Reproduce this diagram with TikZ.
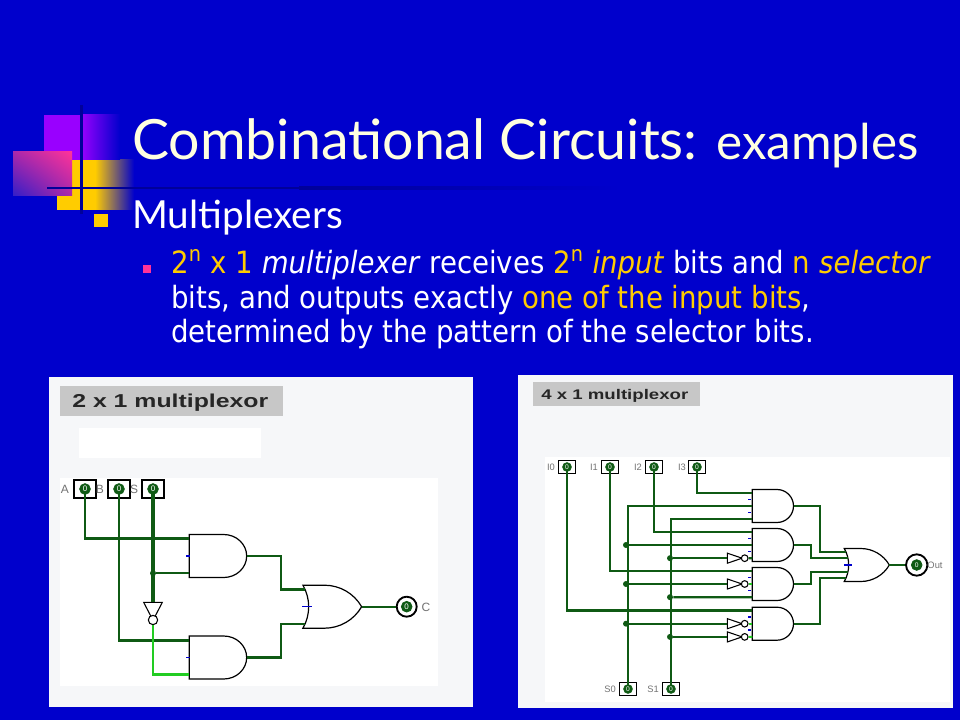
\documentclass[tikz,border=0pt]{standalone}
\usepackage{fontspec}
\setmainfont{DejaVu Sans Condensed}
\newfontfamily\titlefont{Lato}
\newfontfamily\labelfont{Liberation Sans}
\usetikzlibrary{circuits.logic.US,shadings,shapes.geometric}
\definecolor{slidebg}{HTML}{0000CC}
\definecolor{navyline}{HTML}{000099}
\definecolor{creamtxt}{HTML}{FFFFE0}
\definecolor{goldtxt}{HTML}{FFCC00}
\definecolor{pinktxt}{HTML}{FF3399}
\definecolor{purp}{HTML}{9900FF}
\definecolor{midpink}{HTML}{AA28AA}
\definecolor{lowpink}{HTML}{321EC8}
\definecolor{wiregreen}{HTML}{0F5A14}
\definecolor{litgreen}{HTML}{22CC22}
\definecolor{panelgrey}{HTML}{F6F7F9}
\tikzset{
wire/.style={draw=wiregreen,line width=1.6pt},
fatwire/.style={wire,line width=2.6pt},
tick/.style={draw=blue!80!black,line width=0.9pt},
pin/.style={draw,line width=1.4pt,fill=white,minimum width=17pt,minimum height=13.5pt,inner sep=0pt},
smallpin/.style={pin,line width=1.2pt,minimum width=13pt,minimum height=9.5pt},
lamp/.style={circle,draw=wiregreen,fill=wiregreen,line width=0.6pt,minimum size=8pt,inner sep=0pt,
  text=white,font=\labelfont\fontsize{6}{6}\selectfont},
smalllamp/.style={lamp,minimum size=6.5pt,font=\labelfont\fontsize{5}{5}\selectfont},
ring/.style={circle,draw=black,fill=white,line width=1.4pt,minimum size=15pt,inner sep=0pt},
dot/.style={circle,fill=wiregreen,inner sep=0pt,minimum size=4.5pt},
pinlabel/.style={font=\labelfont\fontsize{9}{9}\selectfont,text=black!55,inner sep=0pt},
smalllabel/.style={pinlabel,font=\labelfont\fontsize{7}{7}\selectfont},
heading/.style={text=black!85,inner sep=0pt,anchor=west,xscale=1.33,transform shape},
notbody/.style={isosceles triangle,isosceles triangle stretches,draw=black,fill=white,line width=0.8pt,
  inner sep=0pt,minimum height=11pt,minimum width=7.5pt},
bubble/.style={circle,draw=black,fill=white,line width=0.8pt,inner sep=0pt,minimum size=5pt},
bodyline/.style={anchor=base west,inner sep=0pt,text=white,font=\fontsize{23}{26}\selectfont}
}
\begin{document}
\begin{tikzpicture}[x=0.75pt,y=-0.75pt,circuit logic US,
every circuit symbol/.style={fill=white,draw=black,line width=0.9pt,inner sep=0pt,outer sep=0pt,
  minimum width=0pt,minimum height=0pt,logic gate inverted radius=0.1pt},
nine/.style={logic gate inputs=nnnnnnnnn},
stretched/.style={xscale=1.07,transform shape}]
\useasboundingbox (0,0) rectangle (960,720);
\fill[slidebg] (0,0) rectangle (960,720);
% decoration left of the title
\fill[goldtxt] (57,160) rectangle (96,210);
\shade[left color=goldtxt,right color=slidebg] (95,160) rectangle (134,210);
\fill[purp] (44,115) rectangle (82,160);
\shade[left color=purp,right color=slidebg] (81,115) rectangle (120,160);
\shade[upper right=pinktxt,upper left=midpink,lower left=lowpink,lower right=midpink] (13,152) rectangle (72,196);
\fill[navyline] (80,105) rectangle (82.5,214);
\fill[navyline] (47,187) rectangle (300,189.5);
\shade[left color=navyline,right color=slidebg] (299,187) rectangle (620,189.5);
\fill[goldtxt] (94,214) rectangle (108,227);
\fill[pinktxt] (143,265) rectangle (151,273);
% texts
\node (title) at (132,160) [anchor=base west,inner sep=0pt,text=creamtxt,font=\titlefont\fontsize{41.6}{44}\selectfont] {Combinational Circuits:};
\node (examples) at (716,160) [anchor=base west,inner sep=0pt,text=creamtxt,font=\titlefont\fontsize{37}{40}\selectfont] {examples};
\node (multi) at (132,229) [anchor=base west,inner sep=0pt,text=white,font=\titlefont\fontsize{29}{32}\selectfont] {Multiplexers};
\node (lineA) at (171,274) [bodyline] {\textcolor{goldtxt}{2\textsuperscript{n} x 1} \textit{multiplexer} receives \textcolor{goldtxt}{2\textsuperscript{n} \textit{input}} bits and \textcolor{goldtxt}{n \textit{selector}}};
\node (lineB) at (171,308) [bodyline] {bits, and outputs exactly \textcolor{goldtxt}{one of the input bits},};
\node (lineC) at (171,342) [bodyline] {determined by the pattern of the selector bits.};
% left panel
\fill[panelgrey] (49,377) rectangle (473,707);
\fill[black!22] (60,386) rectangle (283,416);
\node (headA) at (72,403) [heading,font=\labelfont\bfseries\fontsize{14}{16}\selectfont] {2 x 1 multiplexor};
\fill[white] (79,428) rectangle (261,458);
\fill[white] (60,478) rectangle (438,686);
\node [and gate,nine,stretched,logic gate input sep=3.225pt] (andA) at (216,556) {};
\node [and gate,nine,stretched,logic gate input sep=3.225pt] (andB) at (216,657.5) {};
\node [or gate,nine,logic gate input sep=3.225pt] (orA) at (328,606.7) {};
\node [pin] (pA) at (85,489) {};
\node [pin] (pB) at (119,489) {};
\node [pin] (pS) at (153,489) {};
\draw [wire,line width=2pt] (pA.center) |- (andA.input 1);
\draw [wire,line width=2pt] (pB.center) |- (andB.input 1);
\node [notbody,rotate=-90,minimum height=13.5pt,minimum width=14pt] (notS) at (153,608) {};
\node [bubble,minimum size=7pt] (bubS) at (153,620) {};
\draw [fatwire] (pS.center) -- (notS.lower side);
\node [dot] (dotS) at (andA.input 9 -| pS) {};
\draw [wire] (dotS) -- (andA.input 9);
\draw [wire,draw=litgreen,line width=2pt] (bubS) |- (andB.input 9);
\draw [wire] (andA.output) -- ++(right:25.5pt) |- (orA.input 1);
\draw [wire] (andB.output) -- ++(right:25.5pt) |- (orA.input 9);
\node [ring] (outC) at (406.7,606.7) {};
\node [lamp] (lampC) at (406.7,606.7) {0};
\draw [wire] (orA.output) -- (outC);
\node [lamp] (lA) at (85,489) {0};
\node [lamp] (lB) at (119,489) {0};
\node [lamp] (lS) at (153,489) {0};
\node [pinlabel] (tA) at (65,489) {A};
\node [pinlabel] (tB) at (100,489) {B};
\node [pinlabel] (tS) at (134,489) {S};
\node [pinlabel] (tC) at (426,607) {C};
\draw [tick] (186,556) -- (190,556);
\draw [tick] (302,606.7) -- (312,606.7);
\draw [tick] (186,657.5) -- (190,657.5);
% right panel
\fill[panelgrey] (518,375) rectangle (953,708);
\fill[black!22] (532.5,382) rectangle (700,406);
\node (headB) at (541,396) [heading,font=\labelfont\bfseries\fontsize{10.5}{13}\selectfont] {4 x 1 multiplexor};
\fill[white] (545,457) rectangle (950,702);
\foreach \n/\y in {1/506,2/545,3/584,4/623.7}
  \node [and gate,nine,logic gate input sep=2.475pt] (g\n) at (771.5,\y) {};
\node [or gate,nine,logic gate input sep=2.475pt] (orB) at (863.5,565) {};
\node [smallpin] (i0) at (567,467) {};
\node [smallpin] (i1) at (610,467) {};
\node [smallpin] (i2) at (654,467) {};
\node [smallpin] (i3) at (697,467) {};
\node [smallpin] (s0) at (628,689) {};
\node [smallpin] (s1) at (671,689) {};
\draw [wire] (i3.center) |- (g1.input 1);
\draw [wire] (i2.center) |- (g2.input 1);
\draw [wire] (i1.center) |- (g3.input 1);
\draw [wire] (i0.center) |- (g4.input 1);
\draw [wire] (s0.center) |- (g1.input 5);
\draw [wire] (s1.center) |- (g1.input 9);
\node [dot] (d2) at (626,545) {};
\node [dot] (d3) at (626,584) {};
\node [dot] (d4) at (626,623.7) {};
\node [dot] (e2) at (670,558.2) {};
\node [dot] (e3) at (670,597.2) {};
\node [dot] (e4) at (670,636.9) {};
\draw [wire] (d2) -- (g2.input 5);
\draw [wire] (e3) -- (g3.input 9);
\node [notbody] (n2) at (731,558.2) {};
\node [notbody] (n3) at (731,584) {};
\node [notbody] (n4) at (731,623.7) {};
\node [notbody] (n5) at (731,636.9) {};
\node [bubble] (b2) at (744.7,558.2) {};
\node [bubble] (b3) at (744.7,584) {};
\node [bubble] (b4) at (744.7,623.7) {};
\node [bubble] (b5) at (744.7,636.9) {};
\draw [wire] (e2) -- (n2.lower side);
\draw [wire] (d3) -- (n3.lower side);
\draw [wire] (d4) -- (n4.lower side);
\draw [wire] (e4) -- (n5.lower side);
\draw [wire] (b2) -- (g2.input 9);
\draw [wire,draw=litgreen] (b3) -- (g3.input 5);
\draw [wire,draw=litgreen] (b4) -- (g4.input 5);
\draw [wire,draw=litgreen] (b5) -- (g4.input 9);
\draw [wire] (g1.output) -- ++(right:20pt) |- (orB.input 1);
\draw [wire] (g2.output) -- ++(right:13.3pt) |- (orB.input 3);
\draw [wire] (g3.output) -- ++(right:13.3pt) |- (orB.input 7);
\draw [wire] (g4.output) -- ++(right:20pt) |- (orB.input 9);
\node [ring,minimum size=16pt] (outB) at (916.7,565) {};
\node [smalllamp,minimum size=8pt] (lampB) at (916.7,565) {0};
\draw [wire] (orB.output) -- (outB);
\foreach \p/\x/\y in {i0/567/467,i1/610/467,i2/654/467,i3/697/467,s0/628/689,s1/671/689}
  \node [smalllamp] (l\p) at (\x,\y) {0};
\node [smalllabel] (ti0) at (551,467) {I0};
\node [smalllabel] (ti1) at (594,467) {I1};
\node [smalllabel] (ti2) at (638,467) {I2};
\node [smalllabel] (ti3) at (682,467) {I3};
\node [smalllabel] (ts0) at (610,689) {S0};
\node [smalllabel] (ts1) at (653,689) {S1};
\node [smalllabel] (tout) at (935,565) {Out};
\foreach \y in {499.5,512.5,538.5,551.5,577.5,590.5,617,630}
  \draw [tick] (748,\y) -- (751,\y);
\draw [tick] (844,565) -- (852,565);
\end{tikzpicture}
\end{document}
